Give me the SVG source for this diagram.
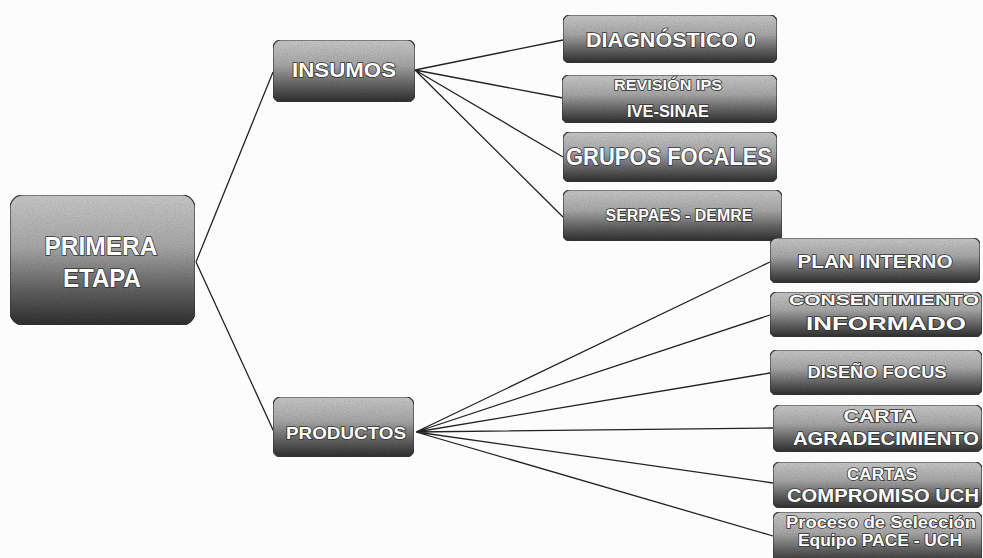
<svg xmlns="http://www.w3.org/2000/svg" width="983" height="558" viewBox="0 0 983 558">
<defs>
<linearGradient id="g" x1="0" y1="0" x2="0" y2="1">
<stop offset="0" stop-color="#d2d2d2"/>
<stop offset="0.4" stop-color="#b0b0b0"/>
<stop offset="0.7" stop-color="#6e6e6e"/>
<stop offset="1" stop-color="#333"/>
</linearGradient>
<filter id="grain" x="0" y="0" width="100%" height="100%">
<feTurbulence type="fractalNoise" baseFrequency="0.9" numOctaves="2" seed="3" result="n"/>
<feColorMatrix in="n" type="matrix" values="0 0 0 0 0  0 0 0 0 0  0 0 0 0 0  0 0 0 0.35 0" result="dn"/>
<feComposite in="dn" in2="SourceGraphic" operator="in" result="d"/>
<feMerge><feMergeNode in="SourceGraphic"/><feMergeNode in="d"/></feMerge>
</filter>
</defs>
<style>
.box{fill:url(#g);stroke:#3a3a3a;stroke-width:1.2;filter:url(#grain)}
.lbl{font-family:"Liberation Sans",Arial,sans-serif;font-weight:bold;fill:#fff;stroke:#333;stroke-width:1.6;paint-order:stroke;text-anchor:middle}
.con{stroke:#222;stroke-width:1.3;fill:none}
</style>
<rect width="983" height="558" fill="#fcfcfc"/>
<g id="connectors">
<path class="con" d="M196 262 L273 72 M196 262 L274 432"/>
<path class="con" d="M415 70 L563 40 M415 70 L563 98 M415 70 L563 157 M415 70 L563 217"/>
<path class="con" d="M416 432 L770 262 M416 432 L770 315 M416 432 L770 373 M416 432 L773 428 M416 432 L773 483 M416 432 L773 536"/>
</g>
<g id="primera">
<rect class="box" x="10" y="195" width="185" height="130" rx="13"/>
<text class="lbl" x="101" y="255" font-size="26" textLength="113" lengthAdjust="spacingAndGlyphs">PRIMERA</text>
<text class="lbl" x="102" y="287" font-size="26" textLength="78" lengthAdjust="spacingAndGlyphs">ETAPA</text>
</g>
<g id="insumos">
<rect class="box" x="273" y="40" width="142" height="62" rx="8"/>
<text class="lbl" x="344" y="77" font-size="21" textLength="104" lengthAdjust="spacingAndGlyphs">INSUMOS</text>
</g>
<g id="productos">
<rect class="box" x="273" y="397" width="141" height="60" rx="8"/>
<text class="lbl" x="346" y="439" font-size="17" textLength="120" lengthAdjust="spacingAndGlyphs">PRODUCTOS</text>
</g>
<g id="diagnostico">
<rect class="box" x="563" y="15" width="214" height="48" rx="7"/>
<text class="lbl" x="671" y="47" font-size="20" textLength="170" lengthAdjust="spacingAndGlyphs">DIAGNÓSTICO 0</text>
</g>
<g id="revision">
<rect class="box" x="562" y="75" width="215" height="48" rx="7"/>
<text class="lbl" x="668" y="90" font-size="15" textLength="108" lengthAdjust="spacingAndGlyphs">REVISIÓN IPS</text>
<text class="lbl" x="668" y="117" font-size="16" textLength="82" lengthAdjust="spacingAndGlyphs">IVE-SINAE</text>
</g>
<g id="grupos">
<rect class="box" x="563" y="132" width="214" height="50" rx="7"/>
<text class="lbl" x="669" y="165" font-size="23" textLength="206" lengthAdjust="spacingAndGlyphs">GRUPOS FOCALES</text>
</g>
<g id="serpaes">
<rect class="box" x="563" y="190" width="219" height="51" rx="7"/>
<text class="lbl" x="679" y="221" font-size="16" textLength="147" lengthAdjust="spacingAndGlyphs">SERPAES - DEMRE</text>
</g>
<g id="plan">
<rect class="box" x="770" y="238" width="210" height="45" rx="7"/>
<text class="lbl" x="875" y="268" font-size="18" textLength="155" lengthAdjust="spacingAndGlyphs">PLAN INTERNO</text>
</g>
<g id="consentimiento">
<rect class="box" x="770" y="292" width="212" height="45" rx="7"/>
<text class="lbl" x="884" y="305" font-size="15" textLength="190" lengthAdjust="spacingAndGlyphs">CONSENTIMIENTO</text>
<text class="lbl" x="886" y="330" font-size="19" textLength="160" lengthAdjust="spacingAndGlyphs">INFORMADO</text>
</g>
<g id="diseno">
<rect class="box" x="770" y="350" width="212" height="45" rx="7"/>
<text class="lbl" x="877" y="378" font-size="17" textLength="139" lengthAdjust="spacingAndGlyphs">DISEÑO FOCUS</text>
</g>
<g id="carta">
<rect class="box" x="773" y="405" width="209" height="47" rx="7"/>
<text class="lbl" x="880" y="422" font-size="16" textLength="73" lengthAdjust="spacingAndGlyphs">CARTA</text>
<text class="lbl" x="886" y="445" font-size="19" textLength="186" lengthAdjust="spacingAndGlyphs">AGRADECIMIENTO</text>
</g>
<g id="cartas">
<rect class="box" x="773" y="462" width="209" height="46" rx="7"/>
<text class="lbl" x="882" y="480" font-size="16" textLength="70" lengthAdjust="spacingAndGlyphs">CARTAS</text>
<text class="lbl" x="883" y="502" font-size="19" textLength="192" lengthAdjust="spacingAndGlyphs">COMPROMISO  UCH</text>
</g>
<g id="proceso">
<rect class="box" x="773" y="512" width="209" height="52" rx="7"/>
<text class="lbl" x="881" y="528" font-size="16" textLength="190" lengthAdjust="spacingAndGlyphs">Proceso de Selección</text>
<text class="lbl" x="880" y="546" font-size="16" textLength="164" lengthAdjust="spacingAndGlyphs">Equipo PACE - UCH</text>
</g>
</svg>
